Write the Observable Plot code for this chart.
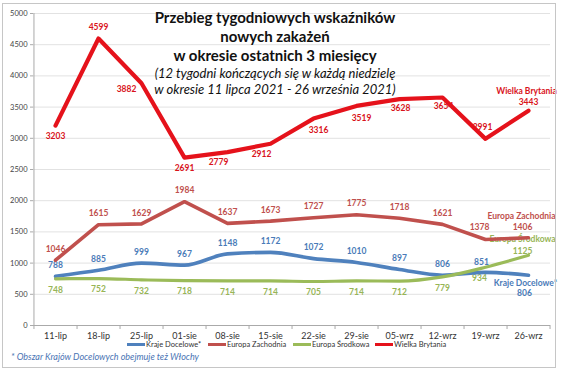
<!DOCTYPE html>
<html><head><meta charset="utf-8">
<script src="https://cdn.jsdelivr.net/npm/d3@7"></script>
<script src="https://cdn.jsdelivr.net/npm/@observablehq/plot@0.6"></script>
<style>
body{margin:0;background:#fff;font-family:Lato,"Open Sans",sans-serif}
#wrap{position:relative;width:564px;height:370px;overflow:hidden;background:#fff}
#wrap svg{position:absolute;left:0;top:0}
.frame{position:absolute;left:2px;top:3px;width:552px;height:363px;border:1px solid #c6c6c6;pointer-events:none}
.title{position:absolute;left:115px;width:320px;text-align:center;font-weight:bold;font-size:15px;color:#111;line-height:19px;top:8px}
.sub{position:absolute;left:100px;width:350px;text-align:center;font-style:italic;font-size:13px;color:#111;line-height:16px;top:65px}
.leg{position:absolute;top:340px;font-size:7.5px;color:#333;white-space:nowrap;display:flex;align-items:center}
.leg i{display:inline-block;width:18px;height:3px;margin-right:1px}
.note{position:absolute;left:11px;top:351px;font-size:9px;font-style:italic;color:#4a74b4}
</style></head><body><div id="wrap"></div>
<script>
const weeks = ["11-lip","18-lip","25-lip","01-sie","08-sie","15-sie","22-sie","29-sie","05-wrz","12-wrz","19-wrz","26-wrz"];
const krajeDocelowe = [788,885,999,967,1148,1172,1072,1010,897,806,851,806];
const europaZachodnia = [1046,1615,1629,1984,1637,1673,1727,1775,1718,1621,1378,1406];
const europaSrodkowa = [748,752,732,718,714,714,705,714,712,779,934,1125];
const wielkaBrytania = [3203,4599,3882,2691,2779,2912,3316,3519,3628,3654,2991,3443];
const yTicks = [0,500,1000,1500,2000,2500,3000,3500,4000,4500,5000];
const seriesNames = ["Kraje Docelowe*","Europa Zachodnia","Europa Środkowa","Wielka Brytania"];
const titleLines = ["Przebieg tygodniowych wskaźników","nowych zakażeń","w okresie ostatnich 3 miesięcy"];
const subtitleLines = ["(12 tygodni kończących się w każdą niedzielę","w okresie 11 lipca 2021 - 26 września 2021)"];
const footnote = "* Obszar Krajów Docelowych obejmuje też Włochy";

const W = 564, H = 370, mL = 33, mR = 14, mT = 13, mB = 45;
const step = (W - mL - mR) / weeks.length;

const series = [
  {name: seriesNames[0], values: krajeDocelowe, color: "#4F81BD", text: "#4a7bb8", width: 3.6, curve: "monotone-x"},
  {name: seriesNames[1], values: europaZachodnia, color: "#C0504D", text: "#c0504d", width: 3.6, curve: "linear"},
  {name: seriesNames[2], values: europaSrodkowa, color: "#9BBB59", text: "#97b556", width: 3.2, curve: "monotone-x"},
  {name: seriesNames[3], values: wielkaBrytania, color: "#E5121B", text: "#d9131b", width: 4.2, curve: "linear"}
];
const rowsOf = s => s.values.map((v, i) => ({week: weeks[i], value: v, i}));

function labels(s, groups) {
  return groups.map(g => Plot.text(rowsOf(s).filter(d => g.idx.includes(d.i)), {
    x: "week", y: "value", text: d => String(d.value), dx: g.dx || 0, dy: g.dy || 0,
    fill: s.text, fontSize: 8.5, fontWeight: "bold"
  }));
}
function nameLabel(s, dx, dy) {
  const last = rowsOf(s).slice(-1);
  return Plot.text(last, {x: "week", y: "value", text: () => s.name, dx, dy, fill: s.text, fontSize: 8.5, fontWeight: "bold"});
}
const [KD, EZ, ES, WB] = series;

const chart = Plot.plot({
  width: W, height: H, marginLeft: mL, marginRight: mR, marginTop: mT, marginBottom: mB,
  style: {fontFamily: "Lato, sans-serif", background: "transparent", overflow: "visible"},
  x: {type: "point", domain: weeks, padding: 0.5, align: 0.5},
  y: {domain: [0, 5000]},
  marks: [
    Plot.gridY(yTicks, {stroke: "#e2e2e2", strokeOpacity: 1}),
    Plot.axisY(yTicks, {tickSize: 3, tickPadding: 3, fontSize: 7.5, color: "#444", stroke: "#aaa", label: null, tickFormat: d => String(d)}),
    Plot.axisX({tickSize: 0, tickPadding: 7, fontSize: 9, color: "#333", label: null}),
    Plot.ruleY([0], {stroke: "#aaa"}),
    Plot.ruleX([weeks[0]], {dx: -step / 2, y1: 0, y2: 5000, stroke: "#aaa"}),
    Plot.ruleX([weeks[0]], {dx: -step / 2, y1: 0, y2: 0, insetBottom: -4, stroke: "#aaa"}),
    Plot.ruleX(weeks, {dx: step / 2, y1: 0, y2: 0, insetBottom: -4, stroke: "#aaa"}),
    ...labels(KD, [{idx: [0,1,2,3,4,5,6,7,8,9], dy: -11}, {idx: [10], dx: -4, dy: -10}, {idx: [11], dx: -4, dy: 18}]),
    ...labels(EZ, [{idx: [0,1,2,3,4,5,6,7,8,9], dy: -11}, {idx: [10], dx: -6, dy: -12}, {idx: [11], dx: -6, dy: -10}]),
    ...labels(ES, [{idx: [0,1,2,3,4,5,6,7,8,9], dy: 11}, {idx: [10], dx: -6, dy: 11}, {idx: [11], dx: -6, dy: -4}]),
    ...labels(WB, [{idx: [0,3], dy: 11}, {idx: [4,5], dx: -9, dy: 10}, {idx: [6,7], dx: 5, dy: 12}, {idx: [8,9], dx: 1, dy: 9},
                   {idx: [1], dy: -11}, {idx: [2], dx: -15, dy: 6}, {idx: [10], dx: -3, dy: -12}, {idx: [11], dy: -8}]),
    nameLabel(WB, -2, -19),
    nameLabel(EZ, -7, -21),
    nameLabel(ES, -6, -16),
    nameLabel(KD, -3, 8),
    ...series.map(s => Plot.line(rowsOf(s), {x: "week", y: "value", stroke: s.color, strokeWidth: s.width, curve: s.curve, strokeLinejoin: "round", strokeLinecap: "round"}))
  ]
});

const wrap = document.getElementById("wrap");
wrap.appendChild(chart);

const t = document.createElement("div"); t.className = "title";
t.innerHTML = titleLines.join("<br>"); wrap.appendChild(t);
const st = document.createElement("div"); st.className = "sub";
st.innerHTML = subtitleLines.join("<br>"); wrap.appendChild(st);

const legLeft = [127, 208, 293, 375];
series.forEach((s, k) => {
  const d = document.createElement("div"); d.className = "leg"; d.style.left = legLeft[k] + "px";
  const sw = document.createElement("i"); sw.style.background = s.color; d.appendChild(sw);
  d.appendChild(document.createTextNode(s.name)); wrap.appendChild(d);
});
const n = document.createElement("div"); n.className = "note"; n.textContent = footnote; wrap.appendChild(n);
const f = document.createElement("div"); f.className = "frame"; wrap.appendChild(f);
</script>
</body></html>
